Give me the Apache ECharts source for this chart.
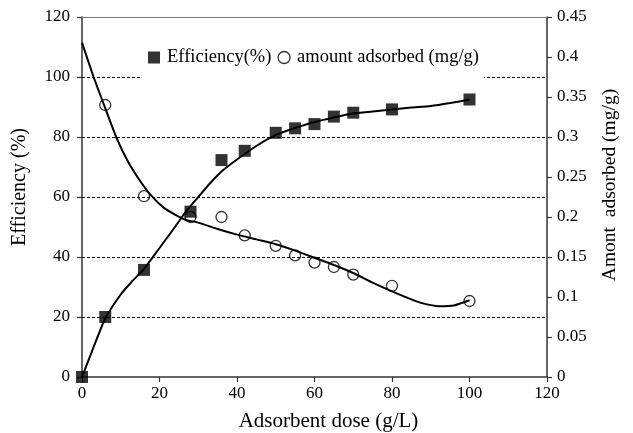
<!DOCTYPE html>
<html>
<head>
<meta charset="utf-8">
<script src="https://cdn.jsdelivr.net/npm/echarts@6/dist/echarts.min.js"></script>
<style>html,body{margin:0;padding:0;background:#fff}#c{width:633px;height:433px}</style>
</head>
<body>
<div id="c"></div>
<script>
// Measured points
var dose = [0, 6, 16, 28, 36, 42, 50, 55, 60, 65, 70, 80, 100];
var efficiency = [0, 20, 35.7, 55.1, 72.3, 75.4, 81.4, 82.9, 84.3, 86.8, 88.1, 89.2, 92.5];
var doseAds = [6, 16, 28, 36, 42, 50, 55, 60, 65, 70, 80, 100];
var amountAdsorbed = [0.34, 0.226, 0.2, 0.2, 0.177, 0.164, 0.152, 0.143, 0.1375, 0.128, 0.114, 0.095];
// Trend curves
var effTrendX = [0, 3, 6, 10, 13, 16, 20, 24, 27, 30, 33, 36, 40, 45, 50, 55, 60, 65, 70, 75, 80, 85, 90, 95, 100];
var effTrendY = [0, 10, 19.5, 27.5, 32, 36, 43, 50, 55.5, 60, 64.5, 68.5, 72.5, 77, 80.7, 83, 85, 86.5, 87.8, 88.5, 89.2, 89.8, 90.3, 91.3, 92.5];
var adsTrendX = [0, 3, 6, 9, 12, 15, 18, 21, 24, 27, 30, 35, 40, 45, 50, 55, 60, 65, 70, 75, 80, 85, 88, 92, 96, 100];
var adsTrendY = [0.418, 0.375, 0.336, 0.298, 0.268, 0.245, 0.226, 0.212, 0.203, 0.196, 0.193, 0.185, 0.178, 0.172, 0.166, 0.158, 0.149, 0.14, 0.13, 0.118, 0.107, 0.097, 0.092, 0.0885, 0.0895, 0.096];
var xTicks = {min: 0, max: 120, step: 20};
var yLeftTicks = {min: 0, max: 120, step: 20};
var yRightTicks = {min: 0, max: 0.45, step: 0.05};

function zip(a, b) { return a.map(function (v, i) { return [v, b[i]]; }); }

var FONT = '"Liberation Serif", "Times New Roman", serif';
var chart = echarts.init(document.getElementById('c'), null, {renderer: 'canvas'});
chart.setOption({
  animation: false,
  backgroundColor: '#fff',
  textStyle: {fontFamily: FONT, color: '#000'},
  grid: {left: 82, right: 86, top: 17, bottom: 56, containLabel: false, outerBoundsMode: 'none'},
  legend: {
    data: [
      {name: 'Efficiency(%)', icon: 'rect', itemStyle: {color: '#000', borderWidth: 0}},
      {name: 'amount adsorbed (mg/g)', icon: 'circle', itemStyle: {color: '#fff', borderColor: '#000', borderWidth: 1.3}}
    ],
    left: 141, top: 34,
    padding: [14, 5, 26, 7],
    backgroundColor: '#fff',
    itemWidth: 12, itemHeight: 12, itemGap: 6,
    textStyle: {fontFamily: FONT, fontSize: 18.5, color: '#000', padding: [0, 0, 0, 2]}
  },
  xAxis: [{
    type: 'value', position: 'bottom',
    min: xTicks.min, max: xTicks.max, interval: xTicks.step,
    name: 'Adsorbent dose (g/L)', nameLocation: 'middle', nameGap: 34,
    nameTextStyle: {fontFamily: FONT, fontSize: 21, color: '#000', padding: [0, 0, 0, 28]},
    axisLine: {onZero: false, lineStyle: {color: '#333', width: 1.5}},
    axisTick: {show: true, inside: false, length: 5, lineStyle: {color: '#333', width: 1.2}},
    axisLabel: {fontFamily: FONT, fontSize: 17, color: '#000', margin: 8},
    splitLine: {show: false}
  }, {
    type: 'value', position: 'top',
    min: xTicks.min, max: xTicks.max,
    axisLine: {onZero: false, lineStyle: {color: '#777', width: 1.2}},
    axisTick: {show: false}, axisLabel: {show: false}, splitLine: {show: false}
  }],
  yAxis: [{
    type: 'value', position: 'left',
    min: yLeftTicks.min, max: yLeftTicks.max, interval: yLeftTicks.step,
    name: 'Efficiency (%)', nameLocation: 'middle', nameGap: 52, nameRotate: 90,
    nameTextStyle: {fontFamily: FONT, fontSize: 20, color: '#000', padding: [0, 0, 0, 20]},
    axisLine: {show: true, onZero: false, lineStyle: {color: '#333', width: 1.5}},
    axisTick: {show: true, inside: false, length: 5, lineStyle: {color: '#333', width: 1.2}},
    axisLabel: {fontFamily: FONT, fontSize: 17, color: '#000', margin: 12},
    splitLine: {show: true, showMinLine: false, showMaxLine: false, lineStyle: {color: '#000', width: 1, type: [3, 2]}}
  }, {
    type: 'value', position: 'right',
    min: yRightTicks.min, max: yRightTicks.max, interval: yRightTicks.step,
    name: 'Amont  adsorbed (mg/g)', nameLocation: 'middle', nameGap: 53, nameRotate: 90,
    nameTextStyle: {fontFamily: FONT, fontSize: 19.5, color: '#000', padding: [0, 0, 0, 24]},
    axisLine: {show: true, onZero: false, lineStyle: {color: '#333', width: 1.5}},
    axisTick: {show: true, inside: false, length: 5, lineStyle: {color: '#333', width: 1.2}},
    axisLabel: {fontFamily: FONT, fontSize: 17, color: '#000', margin: 10},
    splitLine: {show: false}
  }],
  series: [{
    name: 'effTrend', type: 'line', xAxisIndex: 0, yAxisIndex: 0,
    data: zip(effTrendX, effTrendY), smooth: 0.2, showSymbol: false, symbol: 'none',
    lineStyle: {color: '#000', width: 2}, z: 3, silent: true
  }, {
    name: 'adsTrend', type: 'line', xAxisIndex: 0, yAxisIndex: 1,
    data: zip(adsTrendX, adsTrendY), smooth: 0.2, showSymbol: false, symbol: 'none',
    lineStyle: {color: '#000', width: 2}, z: 3, silent: true
  }, {
    name: 'Efficiency(%)', type: 'scatter', xAxisIndex: 0, yAxisIndex: 0,
    data: zip(dose, efficiency), symbol: 'rect', symbolSize: 12,
    itemStyle: {color: '#000'}, z: 4
  }, {
    name: 'amount adsorbed (mg/g)', type: 'scatter', xAxisIndex: 0, yAxisIndex: 1,
    data: zip(doseAds, amountAdsorbed), symbol: 'circle', symbolSize: 11,
    itemStyle: {color: 'rgba(0,0,0,0)', borderColor: '#000', borderWidth: 1.3}, z: 4
  }]
});
</script>
</body>
</html>
